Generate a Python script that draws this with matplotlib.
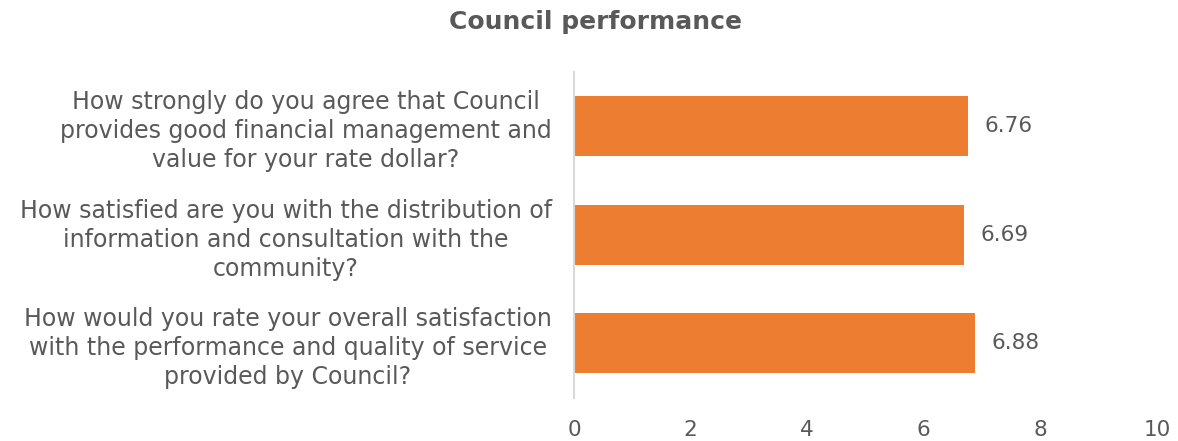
import matplotlib
matplotlib.use("Agg")
import matplotlib.pyplot as plt

categories = [
    "How strongly do you agree that Council\nprovides good financial management and\nvalue for your rate dollar?",
    "How satisfied are you with the distribution of\ninformation and consultation with the\ncommunity?",
    "How would you rate your overall satisfaction\nwith the performance and quality of service\nprovided by Council?",
]
values = [6.76, 6.69, 6.88]
xticks = [0, 2, 4, 6, 8, 10]
title = "Council performance"

plt.rcParams['font.family'] = ['DejaVu Sans']
text_color = "#595959"
bar_color = "#ED7D31"

fig = plt.figure(figsize=(11.78, 4.41), dpi=100)
ax = fig.add_axes([574/1178, 1-397.5/441, (1157-574)/1178, 325.5/441])

pos = list(range(len(categories)))
ax.barh(pos, values, height=0.55, color=bar_color)
ax.set_ylim(2.5, -0.5)
ax.set_xlim(0, 10)
ax.set_xticks(xticks)
ax.set_xticklabels([str(t) for t in xticks])
ax.set_yticks(pos)
ax.set_yticklabels(categories, multialignment='center', linespacing=1.27)

for p, v in zip(pos, values):
    ax.text(v + 0.28, p, f"{v:.2f}", va='center', ha='left', fontsize=15.5, color=text_color)

for s in ['top', 'right', 'bottom']:
    ax.spines[s].set_visible(False)
ax.spines['left'].set_color("#D9D9D9")
ax.spines['left'].set_linewidth(1.5)
ax.tick_params(axis='both', length=0, labelsize=15.5, labelcolor=text_color)
ax.tick_params(axis='x', pad=16)
ax.tick_params(axis='y', labelsize=17, pad=16)

fig.text(0.5055, 1-22/441, title, ha='center', va='center', fontsize=18, fontweight='bold', color=text_color)

fig.savefig("out.png", dpi=100)
